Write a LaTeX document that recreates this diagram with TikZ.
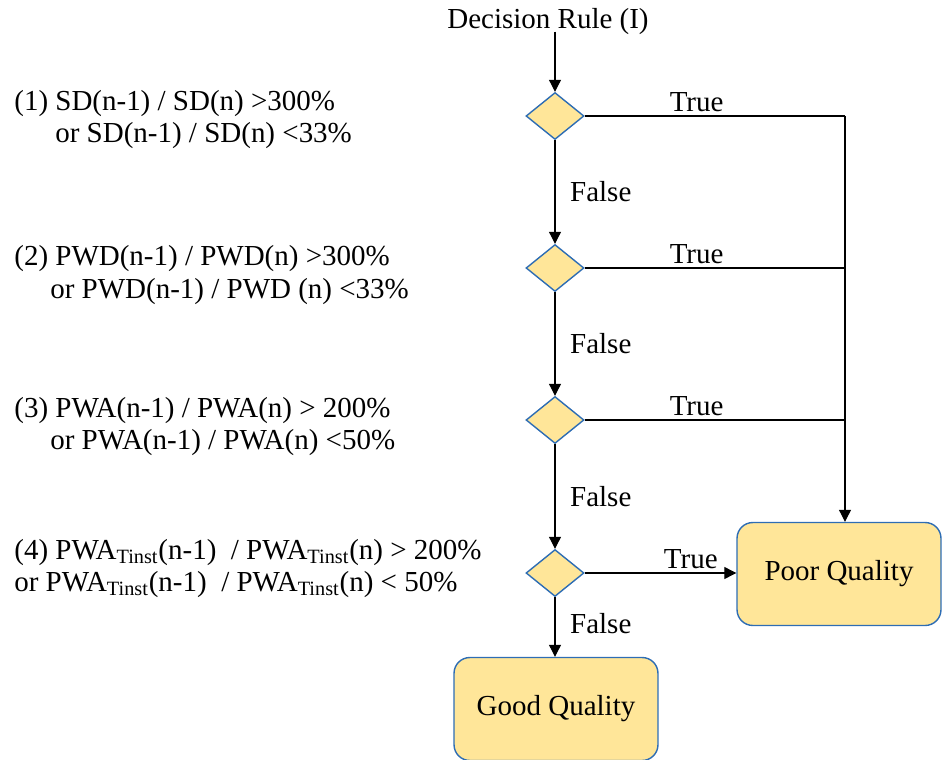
\documentclass[tikz,border=0pt]{standalone}
\usepackage{fontspec}
\setmainfont{Liberation Serif}
\usetikzlibrary{arrows.meta, positioning, shapes.geometric}
\definecolor{boxfill}{HTML}{FFE699}
\definecolor{boxline}{HTML}{2E6DB4}

\begin{document}
\begin{tikzpicture}[x=0.02cm, y=-0.02cm,
        font=\fontsize{16.5}{18.5}\selectfont,
        dec/.style={diamond, draw=boxline, thick, fill=boxfill,
                    minimum width=1.16cm, minimum height=0.94cm, inner sep=0pt},
        res/.style={rectangle, draw=boxline, thick, fill=boxfill, rounded corners=9pt,
                    minimum width=4.08cm, minimum height=2.06cm},
        arr/.style={-{Triangle[length=2.4mm,width=2.4mm]}, semithick},
        ln/.style={semithick},
        cond/.style={anchor=base west, inner sep=0pt},
        lab/.style={anchor=base, inner sep=0pt}]
      \useasboundingbox (0,0) rectangle (943,760);
      % start and decisions
      \node[lab] (start) at (548,29) {Decision Rule (I)};
      \node[dec] (d1) at (555,116) {};
      \node[dec] (d2) at (555,268) {};
      \node[dec] (d3) at (555,420) {};
      \node[dec] (d4) at (555,573) {};
      % results
      \node[res] (poor) at (839,574) {Poor Quality};
      \node[res] (good) at (556,709) {Good Quality};
      \coordinate (c1) at (845,116);
      \coordinate (c2) at (845,268);
      \coordinate (c3) at (845,420);
      % conditions
      \node[cond] (r1a) at (14,111) {(1) SD(n-1) / SD(n) >300\%};
      \node[cond] (r1b) at (55,143) {or SD(n-1) / SD(n) <33\%};
      \node[cond] (r2a) at (14,266) {(2) PWD(n-1) / PWD(n) >300\%};
      \node[cond] (r2b) at (50,298) {or PWD(n-1) / PWD (n) <33\%};
      \node[cond] (r3a) at (14,417) {(3) PWA(n-1) / PWA(n) > 200\%};
      \node[cond] (r3b) at (50,449) {or PWA(n-1) / PWA(n) <50\%};
      \node[cond] (r4a) at (14,559) {(4) PWA\textsubscript{Tinst}(n-1)~ / PWA\textsubscript{Tinst}(n) > 200\%};
      \node[cond] (r4b) at (14,591) {or PWA\textsubscript{Tinst}(n-1)~ / PWA\textsubscript{Tinst}(n) < 50\%};
      % connectors
      \draw[arr] (start.south -| d1) ++(0,-4) -- (d1);
      \draw[arr] (d1) -- node[right=5pt, pos=0.5] (f1) {False} (d2);
      \draw[arr] (d2) -- node[right=5pt, pos=0.5] (f2) {False} (d3);
      \draw[arr] (d3) -- node[right=5pt, pos=0.5] (f3) {False} (d4);
      \draw[arr] (d4) -- node[right=5pt, pos=0.45] (f4) {False} (d4.south |- good.north);
      \draw[ln] (d1) -- node[above=-1pt, pos=0.43] (t1) {True} (c1);
      \draw[ln] (d2) -- node[above=-1pt, pos=0.43] (t2) {True} (c2);
      \draw[ln] (d3) -- node[above=-1pt, pos=0.43] (t3) {True} (c3);
      \draw[arr] (c1) -- (c1 |- poor.north);
      \draw[arr] (d4) -- node[above=-1pt, pos=0.7] (t4) {True} (d4 -| poor.west);
    \end{tikzpicture}
\end{document}
